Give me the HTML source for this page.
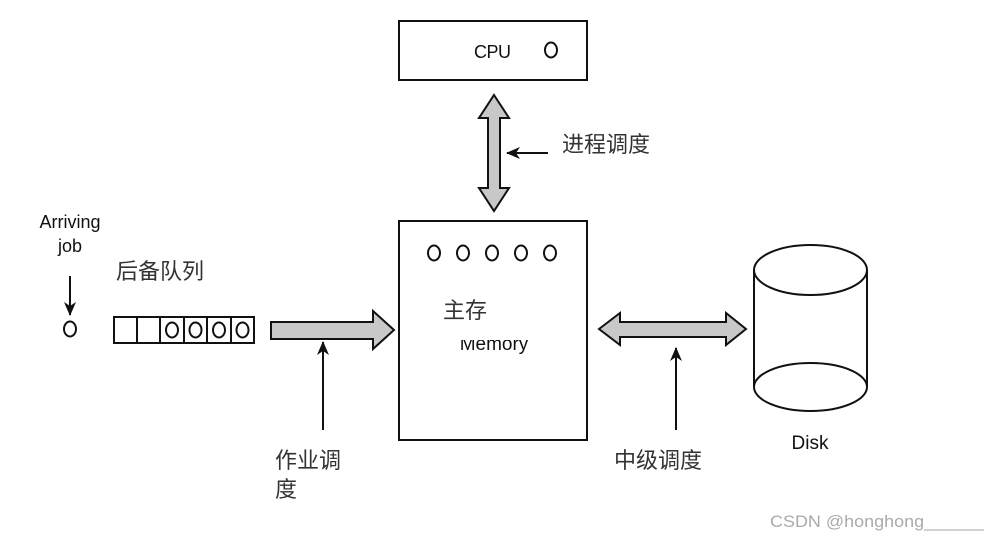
<!DOCTYPE html>
<html><head><meta charset="utf-8"><style>
html,body{margin:0;padding:0;background:#fff;}
svg{display:block;}
text{font-family:"Liberation Sans","Noto Sans CJK SC",sans-serif;}
.cjk{font-family:"Noto Sans CJK SC","WenQuanYi Zen Hei",sans-serif;fill:#333;}
</style></head><body>
<svg width="989" height="539" viewBox="0 0 989 539" xmlns="http://www.w3.org/2000/svg">
<defs>
<marker id="ah" markerWidth="14" markerHeight="14" refX="13" refY="7" orient="auto" markerUnits="userSpaceOnUse">
<path d="M0,1 L14,7 L0,13 L4,7 Z" fill="#111"/>
</marker>
</defs>
<g stroke="#111" stroke-width="2" fill="none">
<rect x="399" y="21" width="188" height="59" fill="#fff"/>
<rect x="399" y="221" width="188" height="219" fill="#fff"/>
<ellipse cx="434" cy="253" rx="6" ry="7.5"/>
<ellipse cx="463" cy="253" rx="6" ry="7.5"/>
<ellipse cx="492" cy="253" rx="6" ry="7.5"/>
<ellipse cx="521" cy="253" rx="6" ry="7.5"/>
<ellipse cx="550" cy="253" rx="6" ry="7.5"/>
<ellipse cx="551" cy="50" rx="6" ry="7.5"/>
<path d="M494,95 L509,118 L500,118 L500,188 L509,188 L494,211 L479,188 L488,188 L488,118 L479,118 Z" fill="#c8c8c8"/>
<path d="M599,329 L620,313 L620,322 L726,322 L726,313 L746,329 L726,345 L726,337 L620,337 L620,345 Z" fill="#c8c8c8"/>
<path d="M271,322 L373,322 L373,311 L394,330 L373,349 L373,339 L271,339 Z" fill="#c8c8c8"/>
<rect x="114" y="317" width="140" height="26"/>
<line x1="137" y1="317" x2="137" y2="343"/>
<line x1="160" y1="317" x2="160" y2="343"/>
<line x1="184" y1="317" x2="184" y2="343"/>
<line x1="207" y1="317" x2="207" y2="343"/>
<line x1="231" y1="317" x2="231" y2="343"/>
<ellipse cx="172" cy="330" rx="6" ry="7.5"/>
<ellipse cx="195.5" cy="330" rx="6" ry="7.5"/>
<ellipse cx="219" cy="330" rx="6" ry="7.5"/>
<ellipse cx="242.5" cy="330" rx="6" ry="7.5"/>
<ellipse cx="70" cy="329" rx="6" ry="7.5"/>
<path d="M754,270 L754,387 M867,270 L867,387"/>
<ellipse cx="810.5" cy="270" rx="56.5" ry="25" fill="#fff"/>
<path d="M754,387 A56.5,24 0 0 0 867,387"/>
<path d="M754,387 A56.5,24 0 0 1 867,387"/>
</g>
<g stroke="#111" stroke-width="2" fill="none">
<line x1="70" y1="276" x2="70" y2="315" marker-end="url(#ah)"/>
<line x1="323" y1="430" x2="323" y2="342" marker-end="url(#ah)"/>
<line x1="676" y1="430" x2="676" y2="348" marker-end="url(#ah)"/>
<line x1="548" y1="153" x2="507" y2="153" marker-end="url(#ah)"/>
</g>
<text x="474" y="58" font-size="18" fill="#111" textLength="37">CPU</text>
<text x="70" y="228" font-size="18" fill="#111" text-anchor="middle">Arriving</text>
<text x="70" y="252" font-size="18" fill="#111" text-anchor="middle">job</text>
<text x="494" y="350" font-size="19" fill="#111" text-anchor="middle">Memory</text>
<rect x="452" y="322" width="86" height="18" fill="#fff"/>
<text x="810" y="449" font-size="19" fill="#111" text-anchor="middle">Disk</text>
<text class="cjk" x="443" y="318" font-size="22">主存</text>
<text class="cjk" x="116" y="279" font-size="22">后备队列</text>
<text class="cjk" x="562" y="152" font-size="22">进程调度</text>
<text class="cjk" x="275" y="468" font-size="22">作业调</text>
<text class="cjk" x="275" y="497" font-size="22">度</text>
<text class="cjk" x="614" y="468" font-size="22">中级调度</text>
<text x="770" y="527" font-size="17" fill="#aaa" textLength="214" lengthAdjust="spacingAndGlyphs">CSDN @honghong______</text>
</svg>
</body></html>
